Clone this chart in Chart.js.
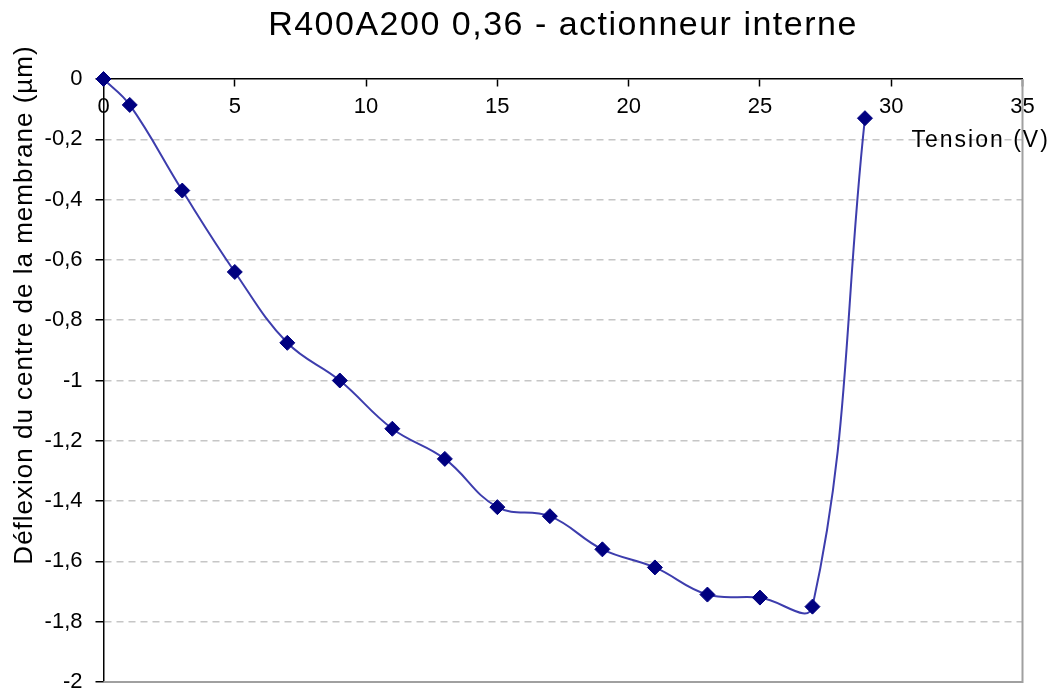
<!DOCTYPE html>
<html lang="fr">
<head>
<meta charset="utf-8">
<title>R400A200 0,36 - actionneur interne</title>
<script src="https://cdn.jsdelivr.net/npm/chart.js@4.4.1/dist/chart.umd.min.js"></script>
<style>
  html, body { margin: 0; padding: 0; background: #fff; }
  canvas { display: block; }
</style>
</head>
<body>
<canvas id="chart" width="1059" height="693"></canvas>
<script>
// Textes
const chartTitle = 'R400A200 0,36 - actionneur interne';
const xTitle = 'Tension (V)';
const yTitle = 'Déflexion du centre de la membrane (µm)';

// Mesures : tension (V) et déflexion (µm)
const tension = [0, 1, 3, 5, 7, 9, 11, 13, 15, 17, 19, 21, 23, 25, 27, 29];
const deflexion = [0, -0.086, -0.37, -0.64, -0.875, -1.0, -1.16, -1.26, -1.42, -1.45, -1.56, -1.62, -1.71, -1.72, -1.75, -0.13];

// Graduations
const xTickValues = [0, 5, 10, 15, 20, 25, 30, 35];
const yTickValues = [0, -0.2, -0.4, -0.6, -0.8, -1, -1.2, -1.4, -1.6, -1.8, -2];

const FONT = '"Liberation Sans", Arial, sans-serif';

// virgule décimale à la française
const fmt = (v) => String(Math.round(v * 10) / 10).replace('.', ',');

// Cadre gris à droite et en bas de la zone de tracé
const framePlugin = {
    id: 'frame',
    beforeDatasetsDraw(chart) {
        const { ctx, chartArea: a } = chart;
        ctx.save();
        ctx.strokeStyle = '#a0a0a0';
        ctx.lineWidth = 2;
        ctx.beginPath();
        ctx.moveTo(a.left, a.bottom);
        ctx.lineTo(a.right, a.bottom);
        ctx.lineTo(a.right, a.top);
        ctx.stroke();
        ctx.restore();
    },
};

// Titres (espacement des lettres comme dans Excel)
const titlesPlugin = {
    id: 'titles',
    afterDraw(chart) {
        const { ctx, chartArea: a } = chart;
        ctx.save();
        ctx.fillStyle = '#000';
        ctx.textBaseline = 'alphabetic';

        ctx.font = '34px ' + FONT;
        ctx.letterSpacing = '1.5px';
        ctx.textAlign = 'center';
        ctx.fillText(chartTitle, (a.left + a.right) / 2, 35);

        ctx.font = '23px ' + FONT;
        ctx.letterSpacing = '2px';
        ctx.textAlign = 'left';
        ctx.fillText(xTitle, a.right - 111, a.top + 68);

        ctx.font = '26px ' + FONT;
        ctx.letterSpacing = '1px';
        ctx.textAlign = 'center';
        ctx.translate(32, 305);
        ctx.rotate(-Math.PI / 2);
        ctx.fillText(yTitle, 0, 0);
        ctx.restore();
    },
};

new Chart(document.getElementById('chart'), {
    type: 'line',
    data: {
        datasets: [
            {
                data: tension.map((x, i) => ({ x, y: deflexion[i] })),
                borderColor: '#3d3dad',
                borderWidth: 2,
                tension: 0.4,
                pointStyle: 'rectRot',
                pointRadius: 7.5,
                pointBackgroundColor: '#000080',
                pointBorderColor: '#000080',
                pointBorderWidth: 1,
                clip: false,
            },
        ],
    },
    options: {
        responsive: false,
        animation: false,
        devicePixelRatio: 1,
        layout: { padding: { left: 0, right: 36.5, top: 79, bottom: 11 } },
        plugins: { legend: { display: false }, title: { display: false }, tooltip: { enabled: false } },
        scales: {
            x: {
                type: 'linear',
                position: { y: 0 },
                min: 0,
                max: 35,
                afterBuildTicks: (s) => { s.ticks = xTickValues.map((v) => ({ value: v })); },
                afterFit: (s) => { s.paddingLeft = 0; s.paddingRight = 0; },
                grid: { drawOnChartArea: false, drawTicks: true, tickLength: 7, tickColor: '#000', tickWidth: 1.5 },
                border: { display: true, color: '#000', width: 1.5 },
                ticks: {
                    padding: 8,
                    color: '#000',
                    maxRotation: 0,
                    autoSkip: false,
                    font: { family: FONT, size: 22 },
                    callback: (v) => fmt(v),
                },
            },
            y: {
                type: 'linear',
                position: 'left',
                min: -2,
                max: 0,
                afterBuildTicks: (s) => { s.ticks = yTickValues.map((v) => ({ value: v })); },
                afterFit: (s) => { s.width = 103.5; s.paddingTop = 0; s.paddingBottom = 0; },
                grid: {
                    color: (c) => (c.tick && (c.tick.value === 0 || c.tick.value === -2) ? 'rgba(0,0,0,0)' : '#c6c6c6'),
                    lineWidth: 1.5,
                    tickLength: 8,
                    tickColor: '#000',
                    tickWidth: 1.5,
                },
                border: { display: true, color: '#000', width: 1.5, dash: [7, 5] },
                ticks: {
                    padding: 13,
                    color: '#000',
                    autoSkip: false,
                    font: { family: FONT, size: 22 },
                    callback: (v) => fmt(v),
                },
            },
        },
    },
    plugins: [framePlugin, titlesPlugin],
});
</script>
</body>
</html>
